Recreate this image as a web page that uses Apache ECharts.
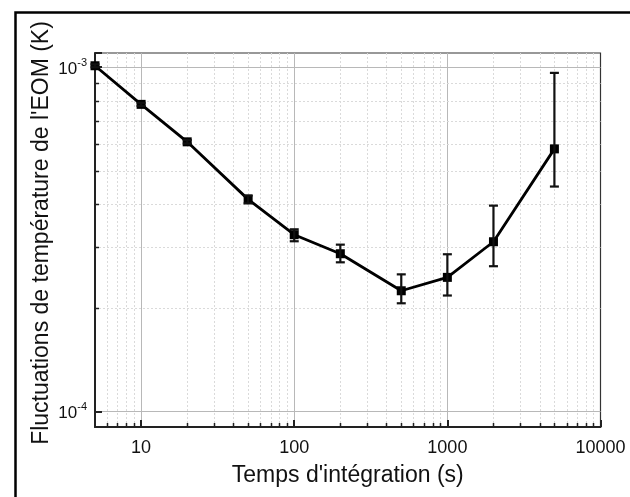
<!DOCTYPE html>
<html>
<head>
<meta charset="utf-8">
<script src="https://cdn.jsdelivr.net/npm/echarts@6/dist/echarts.min.js"></script>
<style>
  html, body { margin: 0; padding: 0; background: #fff; }
  #chart { width: 630px; height: 497px; }
</style>
</head>
<body>
<div id="chart"></div>
<script>
// integration time (s) and EOM temperature fluctuations (K)
var times = [5, 10, 20, 50, 100, 200, 500, 1000, 2000, 5000];
var fluct = [1.01e-3, 7.8e-4, 6.07e-4, 4.13e-4, 3.26e-4, 2.87e-4, 2.24e-4, 2.45e-4, 3.11e-4, 5.79e-4];
var errLow = [1.0e-3, 7.72e-4, 6.0e-4, 4.02e-4, 3.12e-4, 2.71e-4, 2.06e-4, 2.17e-4, 2.64e-4, 4.50e-4];
var errHigh = [1.02e-3, 7.88e-4, 6.14e-4, 4.24e-4, 3.38e-4, 3.05e-4, 2.50e-4, 2.86e-4, 3.96e-4, 9.63e-4];

// minor tick positions of the log axes
var xMinor = [6, 7, 8, 9, 20, 30, 40, 50, 60, 70, 80, 90,
  200, 300, 400, 500, 600, 700, 800, 900,
  2000, 3000, 4000, 5000, 6000, 7000, 8000, 9000];
var yMinor = [2e-4, 3e-4, 4e-4, 5e-4, 6e-4, 7e-4, 8e-4, 9e-4];

var chartDom = document.getElementById('chart');
var myChart = echarts.init(chartDom);
var option;

function isPow10(v) {
  var l = Math.log10(v);
  return Math.abs(l - Math.round(l)) < 1e-6;
}

option = {
  backgroundColor: '#fff',
  animation: false,
  textStyle: { fontFamily: 'Liberation Sans, Arial, sans-serif' },
  graphic: [{
    type: 'rect',
    left: 13,
    top: 10,
    shape: { width: 640, height: 510 },
    style: { fill: 'none', stroke: '#000', lineWidth: 2.5 },
    silent: true
  }],
  grid: {
    left: 95,
    top: 53,
    right: 29.5,
    bottom: 70,
    show: true,
    borderColor: '#333',
    borderWidth: 1.2,
    backgroundColor: 'transparent'
  },
  xAxis: {
    type: 'log',
    logBase: 10,
    min: 5,
    max: 10000,
    name: "Temps d'intégration (s)",
    nameLocation: 'middle',
    nameGap: 37,
    nameMoveOverlap: false,
    nameTextStyle: { fontSize: 23, color: '#111' },
    axisLine: { onZero: false, lineStyle: { color: '#222', width: 2 } },
    axisTick: { inside: true, length: 7, lineStyle: { color: '#222', width: 2 } },
    axisLabel: {
      fontSize: 18,
      color: '#111',
      margin: 12,
      formatter: function (v) { return (isPow10(v) && v > 5) ? String(Math.round(v)) : ''; }
    },
    splitLine: {
      show: true,
      showMinLine: false,
      showMaxLine: false,
      lineStyle: { color: '#b8b8b8', width: 1 }
    }
  },
  yAxis: {
    type: 'log',
    logBase: 10,
    min: 9e-5,
    max: 1.1e-3,
    name: "Fluctuations de température de l'EOM (K)",
    nameLocation: 'middle',
    nameGap: 42,
    nameMoveOverlap: false,
    nameTextStyle: { fontSize: 23, color: '#111', padding: [0, 0, 0, 14] },
    axisLine: { onZero: false, lineStyle: { color: '#222', width: 2 } },
    axisTick: { inside: true, length: 7, lineStyle: { color: '#222', width: 2 } },
    axisLabel: {
      color: '#111',
      margin: 8,
      formatter: function (v) {
        if (!isPow10(v)) return '';
        return '{b|10}{s|' + Math.round(Math.log10(v)) + '}';
      },
      rich: {
        b: { fontSize: 17, color: '#111', padding: [4, 0, 0, 0] },
        s: { fontSize: 11, color: '#111', padding: [0, 0, 8, 0] }
      }
    },
    splitLine: {
      show: true,
      showMinLine: false,
      showMaxLine: false,
      lineStyle: { color: '#b8b8b8', width: 1 }
    }
  },
  series: [
    {
      type: 'custom',
      z: 1,
      silent: true,
      data: xMinor.map(function (v) { return [v, 1e-4]; }),
      renderItem: function (params, api) {
        var cs = params.coordSys;
        var px = Math.round(api.coord([api.value(0), 1e-4])[0]) + 0.5;
        var yb = cs.y + cs.height;
        return {
          type: 'group',
          children: [
            { type: 'line', shape: { x1: px, y1: cs.y, x2: px, y2: yb },
              style: { stroke: '#dadada', lineWidth: 1, lineDash: [2, 2] } },
            { type: 'line', shape: { x1: px, y1: yb, x2: px, y2: yb - 4 },
              style: { stroke: '#222', lineWidth: 1.5 } }
          ]
        };
      }
    },
    {
      type: 'custom',
      z: 1,
      silent: true,
      data: yMinor.map(function (v) { return [10, v]; }),
      renderItem: function (params, api) {
        var cs = params.coordSys;
        var py = Math.round(api.coord([10, api.value(1)])[1]) + 0.5;
        return {
          type: 'group',
          children: [
            { type: 'line', shape: { x1: cs.x, y1: py, x2: cs.x + cs.width, y2: py },
              style: { stroke: '#dadada', lineWidth: 1, lineDash: [2, 2] } },
            { type: 'line', shape: { x1: cs.x, y1: py, x2: cs.x + 4, y2: py },
              style: { stroke: '#222', lineWidth: 1.5 } }
          ]
        };
      }
    },
    {
      type: 'line',
      z: 3,
      data: times.map(function (t, i) { return [t, fluct[i]]; }),
      symbol: 'rect',
      symbolSize: 9,
      lineStyle: { color: '#000', width: 2.8 },
      itemStyle: { color: '#000' }
    },
    {
      type: 'custom',
      z: 4,
      data: times.map(function (t, i) { return [t, errLow[i], errHigh[i]]; }),
      renderItem: function (params, api) {
        var lo = api.coord([api.value(0), api.value(1)]);
        var hi = api.coord([api.value(0), api.value(2)]);
        var hw = 4.5;
        var st = { stroke: '#111', lineWidth: 2.2 };
        return {
          type: 'group',
          children: [
            { type: 'line', shape: { x1: lo[0], y1: lo[1], x2: hi[0], y2: hi[1] }, style: st },
            { type: 'line', shape: { x1: lo[0] - hw, y1: lo[1], x2: lo[0] + hw, y2: lo[1] }, style: st },
            { type: 'line', shape: { x1: hi[0] - hw, y1: hi[1], x2: hi[0] + hw, y2: hi[1] }, style: st }
          ]
        };
      }
    }
  ]
};

option && myChart.setOption(option);

window.addEventListener('resize', function () {
  myChart.resize();
});
</script>
</body>
</html>
